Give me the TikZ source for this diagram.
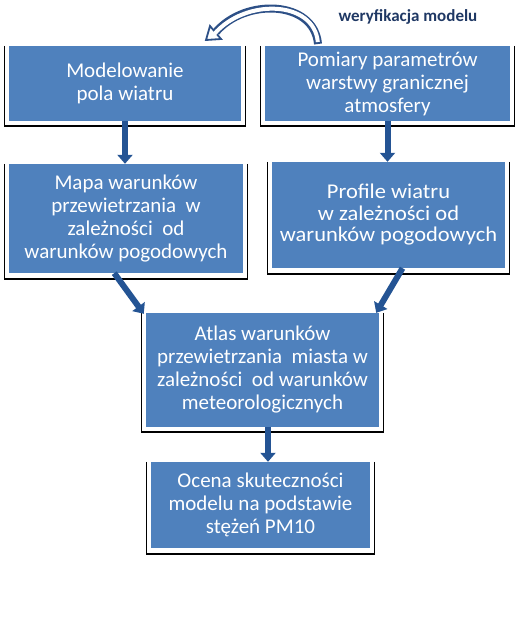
\documentclass[tikz,border=0pt]{standalone}
\usepackage{fontspec}
\setmainfont{Carlito}
\newfontfamily\widefont{Carlito}[FakeStretch=1.07]
\usetikzlibrary{arrows.meta, calc}
\definecolor{boxblue}{RGB}{79, 129, 189}
\definecolor{arrowblue}{RGB}{36, 84, 148}
\definecolor{curveblue}{RGB}{45, 80, 135}
\definecolor{navy}{RGB}{31, 56, 100}

\begin{document}
\begin{tikzpicture}[x=1pt, y=-1pt, >={Triangle[width=15pt, length=9pt]},
    box/.style={fill=boxblue, text=white, align=center, inner sep=0pt,
      font=\fontsize{21}{23}\selectfont},
    flow/.style={->, arrowblue, line width=6pt}]
  \useasboundingbox (0,0) rectangle (520,634);
  \node[box, minimum width=232pt, minimum height=75pt]  (model)   at (125, 83.5)   {Modelowanie\\pola wiatru};
  \node[box, minimum width=245pt, minimum height=75pt]  (pomiar)  at (387.5, 83.5) {Pomiary parametrów\\warstwy granicznej\\atmosfery};
  \node[box, minimum width=234pt, minimum height=109pt] (mapa)    at (126, 218.5)  {Mapa warunków\\przewietrzania\ \ w\\zależności\ \ od\\warunków pogodowych};
  \node[box, minimum width=233pt, minimum height=106pt,
        font=\widefont\fontsize{21}{21.5}\selectfont]   (profile) at (388.5, 215)  {Profile wiatru\\w zależności od\\warunków pogodowych};
  \node[box, minimum width=233pt, minimum height=114pt] (atlas)   at (262.5, 370)  {Atlas warunków\\przewietrzania\ \ miasta w\\zależności\ \ od warunków\\meteorologicznych};
  \node[box, minimum width=219pt, minimum height=86pt]  (ocena)   at (260.5, 505)  {Ocena skuteczności\\modelu na podstawie\\stężeń PM10};
  % ramki
  \foreach \n/\g in {model/5, pomiar/5, mapa/6, profile/6, atlas/5, ocena/6} {
    \draw[line width=1pt] ($(\n.north west)+(-4,0)$) -- ($(\n.south west)+(-4,\g)$);
    \draw[line width=1pt] ($(\n.north east)+(4,0)$) -- ($(\n.south east)+(4,\g)$);
    \draw[line width=2.5pt] ($(\n.south west)+(-4.5,\g)$) -- ($(\n.south east)+(4.5,\g)$);
  }
  \draw[flow] (model.south) -- (model.south |- mapa.north);
  \draw[flow] (pomiar.south) -- (pomiar.south |- profile.north);
  \draw[flow] ($(mapa.south west)!0.45!(mapa.south east)$) -- ($(atlas.north west)+(-2,1)$);
  \draw[flow] ($(profile.south west)!0.56!(profile.south east)$) -- ($(atlas.north east)+(-3,0)$);
  \draw[flow] ($(atlas.south)+(5.5,0)$) -- ($(ocena.north)+(7.5,0)$);
  % weryfikacja
  \coordinate (vtail) at (318, 44);
  \coordinate (vend)  at (216, 32);
  \draw[curveblue, line width=8pt] (vtail) .. controls (314,0) and (245,-2) .. (vend);
  \filldraw[draw=curveblue, fill=white, line width=1.8pt, line join=miter]
    (206,40) -- (210,26) -- (221,39) -- cycle;
  \draw[white, line width=4pt, shorten <=2pt, shorten >=-3pt] (vtail) .. controls (314,0) and (245,-2) .. (vend);
  \node[font=\bfseries\fontsize{17}{20}\selectfont, text=navy] (verif) at (408, 17) {weryfikacja modelu};
\end{tikzpicture}
\end{document}
